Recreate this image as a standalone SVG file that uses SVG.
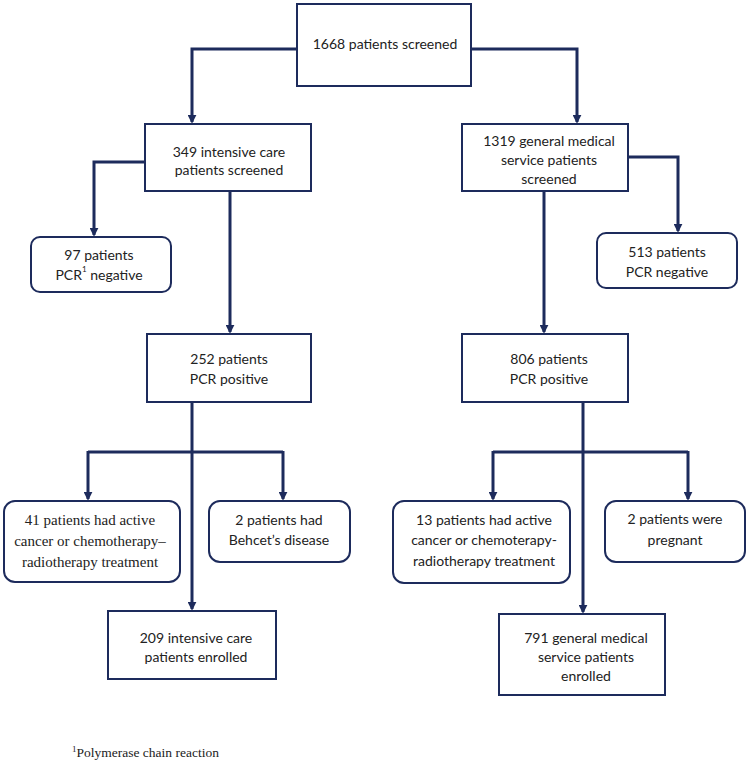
<svg xmlns="http://www.w3.org/2000/svg" width="749" height="764" viewBox="0 0 749 764">
<style>
.box{fill:#fff;stroke:#1d2b5c;stroke-width:2}
.t{font-family:Lato,"Open Sans",sans-serif;font-size:14px;fill:#222;text-anchor:middle;dominant-baseline:central}
.s{font-family:"Liberation Serif",serif;font-size:15px;fill:#222;text-anchor:middle;dominant-baseline:central}
.c{fill:none;stroke:#1d2b5c;stroke-width:3}
.ca{fill:none;stroke:#1d2b5c;stroke-width:3;marker-end:url(#ah)}
</style>
<defs>
<marker id="ah" viewBox="0 0 10 10" refX="8" refY="5" markerWidth="9" markerHeight="9" markerUnits="userSpaceOnUse" orient="auto">
<path d="M0,0 L10,5 L0,10 z" fill="#1d2b5c"/>
</marker>
</defs>
<rect width="749" height="764" fill="#fff"/>
<g id="connectors">
<path class="ca" d="M297,49 H192 V122"/>
<path class="ca" d="M471,49 H577 V122"/>
<path class="ca" d="M145,162 H94 V235"/>
<path class="ca" d="M628,157 H678 V231"/>
<path class="ca" d="M230,191 V332"/>
<path class="ca" d="M544,191 V332"/>
<path class="ca" d="M192,402 V609"/>
<path class="c" d="M88,452 H283"/>
<path class="ca" d="M88,451 V499"/>
<path class="ca" d="M283,451 V499"/>
<path class="ca" d="M583,402 V612"/>
<path class="c" d="M493,452 H688"/>
<path class="ca" d="M493,451 V499"/>
<path class="ca" d="M688,451 V499"/>
</g>
<g id="n1668">
<rect class="box" x="297" y="4" width="174" height="82"/>
<text class="t" x="385" y="43">1668 patients screened</text>
</g>
<g id="n349">
<rect class="box" x="145" y="124" width="166" height="67"/>
<text class="t" x="229" y="151">349 intensive care</text>
<text class="t" x="229" y="169">patients screened</text>
</g>
<g id="n1319">
<rect class="box" x="462" y="124" width="166" height="67"/>
<text class="t" x="549" y="140">1319 general medical</text>
<text class="t" x="549" y="159">service patients</text>
<text class="t" x="549" y="178">screened</text>
</g>
<g id="n97">
<rect class="box" x="31" y="237" width="140" height="55" rx="9"/>
<text class="t" x="99" y="254">97 patients</text>
<text class="t" x="99" y="274">PCR<tspan font-size="8" dy="-5">1</tspan><tspan dy="5"> negative</tspan></text>
</g>
<g id="n513">
<rect class="box" x="597" y="233" width="140" height="55" rx="9"/>
<text class="t" x="667" y="251">513 patients</text>
<text class="t" x="667" y="271">PCR negative</text>
</g>
<g id="n252">
<rect class="box" x="147" y="334" width="164" height="68"/>
<text class="t" x="229" y="358">252 patients</text>
<text class="t" x="229" y="378">PCR positive</text>
</g>
<g id="n806">
<rect class="box" x="462" y="334" width="166" height="68"/>
<text class="t" x="549" y="358">806 patients</text>
<text class="t" x="549" y="378">PCR positive</text>
</g>
<g id="n41">
<rect class="box" x="4" y="501" width="176" height="81" rx="11"/>
<text class="s" x="90" y="520">41 patients had active</text>
<text class="s" x="90" y="541">cancer or chemotherapy–</text>
<text class="s" x="90" y="562">radiotherapy treatment</text>
</g>
<g id="n2b">
<rect class="box" x="209" y="501" width="141" height="61" rx="11"/>
<text class="t" x="279" y="519">2 patients had</text>
<text class="t" x="279" y="539">Behcet’s disease</text>
</g>
<g id="n13">
<rect class="box" x="393" y="501" width="177" height="82" rx="11"/>
<text class="t" x="484" y="519">13 patients had active</text>
<text class="t" x="484" y="539">cancer or chemoterapy-</text>
<text class="t" x="484" y="560">radiotherapy treatment</text>
</g>
<g id="n2p">
<rect class="box" x="605" y="501" width="140" height="61" rx="11"/>
<text class="t" x="675" y="518">2 patients were</text>
<text class="t" x="675" y="539">pregnant</text>
</g>
<g id="n209">
<rect class="box" x="108" y="611" width="168" height="68"/>
<text class="t" x="196" y="637">209 intensive care</text>
<text class="t" x="196" y="656">patients enrolled</text>
</g>
<g id="n791">
<rect class="box" x="499" y="614" width="166" height="81"/>
<text class="t" x="586" y="637">791 general medical</text>
<text class="t" x="586" y="656">service patients</text>
<text class="t" x="586" y="675">enrolled</text>
</g>
<g id="footnote">
<text x="72" y="757" font-family="'Liberation Serif',serif" font-size="13.5" fill="#222"><tspan font-size="9" dy="-5">1</tspan><tspan dy="5">Polymerase chain reaction</tspan></text>
</g>
</svg>
